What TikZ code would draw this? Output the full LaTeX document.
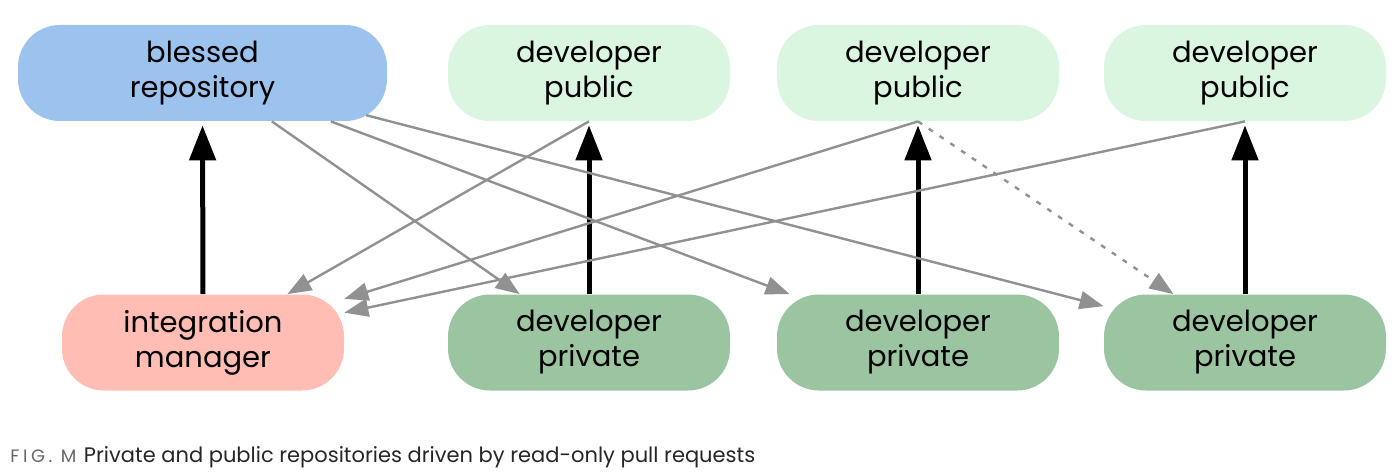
\documentclass[tikz,border=0pt]{standalone}
\usepackage{fontspec}
\setmainfont{Poppins}
\usetikzlibrary{arrows.meta}

\definecolor{blessedblue}{HTML}{9CC2EE}
\definecolor{publicgreen}{HTML}{DAF5E0}
\definecolor{privategreen}{HTML}{9BC4A1}
\definecolor{managerpink}{HTML}{FFBDB4}
\definecolor{pullgray}{HTML}{919191}

\begin{document}
\begin{tikzpicture}[x=0.5pt,y=-0.5pt]
					\tikzstyle{repo}=[rectangle,rounded corners=21pt,minimum width=141pt,minimum height=48pt,align=center,inner sep=0pt,font=\fontsize{14.5}{17.5}\selectfont]
					\tikzstyle{push}=[line width=2.5pt,-{Triangle[length=17.5pt,width=13pt]},shorten >=2pt]
					\tikzstyle{pull}=[line width=1.2pt,draw=pullgray,-{Triangle[length=12pt,width=9pt]},pullgray]
					\useasboundingbox (0,0) rectangle (1399,476);
					
					\node[repo,fill=blessedblue,minimum width=184.5pt] (blessed) at (202.5,73) {blessed\\repository};
					\node[repo,fill=publicgreen] (pubA) at (589,73) {developer\\public};
					\node[repo,fill=publicgreen] (pubB) at (918,73) {developer\\public};
					\node[repo,fill=publicgreen] (pubC) at (1245,73) {developer\\public};
					\node[repo,fill=managerpink] (manager) at (203,342.5) {integration\\manager};
					\node[repo,fill=privategreen] (privA) at (589,342.5) {developer\\private};
					\node[repo,fill=privategreen] (privB) at (918,342.5) {developer\\private};
					\node[repo,fill=privategreen] (privC) at (1245,342.5) {developer\\private};
					
					\draw[push] (manager.north) -- (blessed.south);
					\draw[push] (privA.north) -- (pubA.south);
					\draw[push] (privB.north) -- (pubB.south);
					\draw[push] (privC.north) -- (pubC.south);
					
					\draw[pull] (blessed) -- (privA);
					\draw[pull] (blessed) -- (privB);
					\draw[pull,shorten <=-11pt] (blessed) -- (privC);
					\draw[pull] (pubA.south) -- (manager);
					\draw[pull] (pubB.south) -- (manager);
					\draw[pull] (pubC.south) -- (manager);
					\draw[pull,dash pattern=on 2.5pt off 4pt] (pubB.south) -- (privC);
					
					\node[anchor=west,inner sep=0pt,font=\fontsize{10.5}{12}\selectfont,text=black!85] (caption) at (10,457) {{\color{black!60}\fontsize{9}{10}\selectfont\addfontfeature{LetterSpace=20}FIG. M}\hspace{1pt} Private and public repositories driven by read-only pull requests};
\end{tikzpicture}
\end{document}
